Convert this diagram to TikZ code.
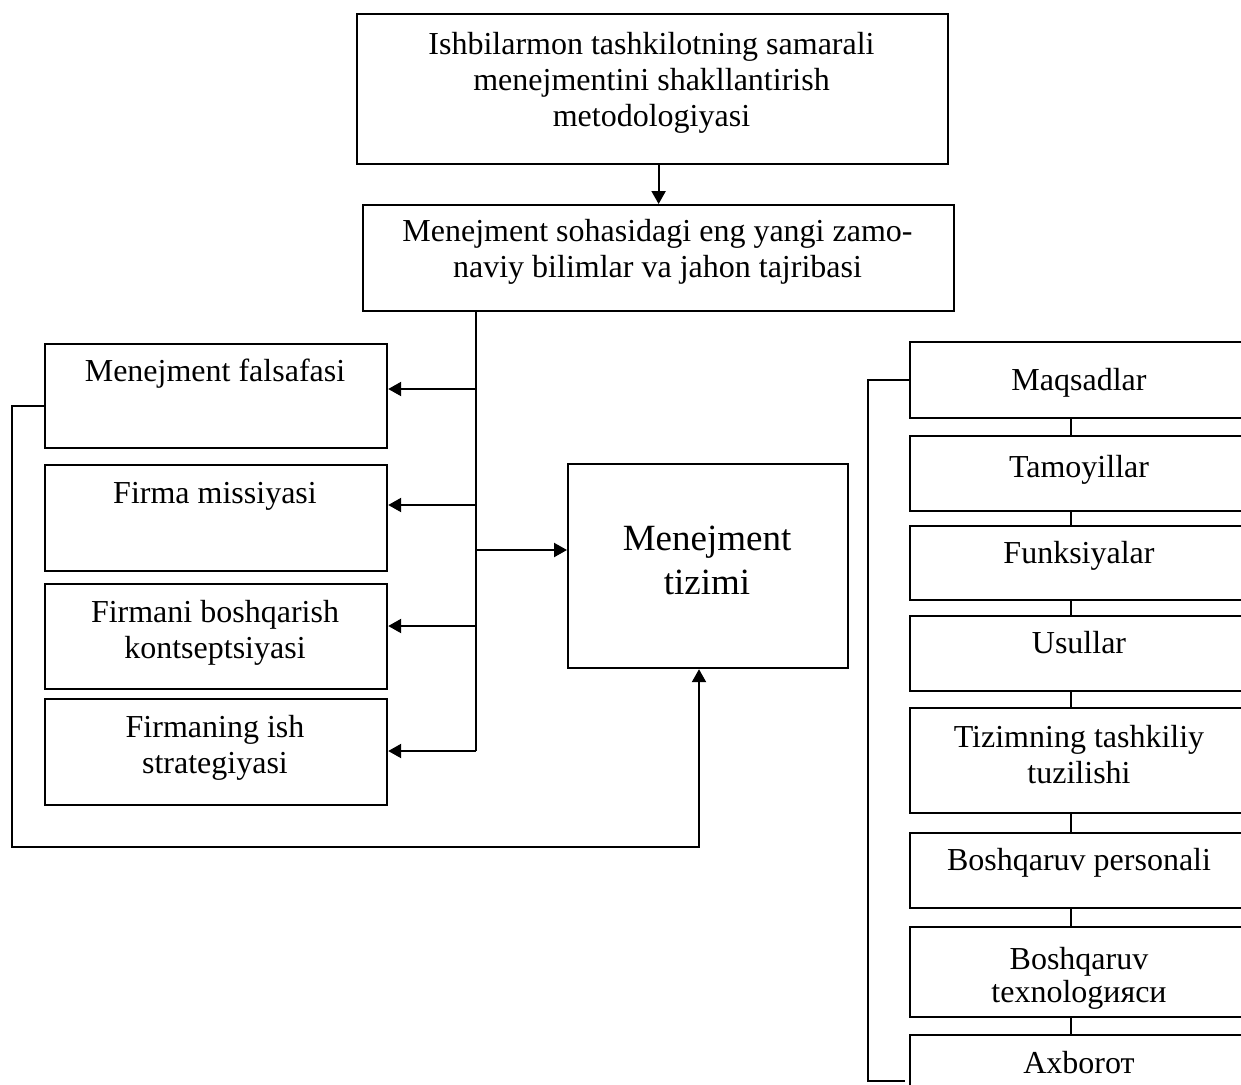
\documentclass[tikz,border=0pt]{standalone}
\usepackage{fontspec}
\setmainfont{Liberation Serif}
\usetikzlibrary{arrows.meta}

\tikzset{
  box/.style={draw, line width=2.2pt, rectangle, inner sep=0pt, anchor=north west},
  % multi-line labels sit on the baseline of their last line
  lbl/.style={inner sep=0pt, align=center, anchor=base, font=\fontsize{32}{36}\selectfont},
  biglbl/.style={inner sep=0pt, align=center, anchor=base, font=\fontsize{37}{44}\selectfont},
  link/.style={line width=2.2pt},
  arr/.style={line width=2.2pt, -{Triangle[length=13pt,width=14pt]}},
}

\begin{document}
\begin{tikzpicture}[x=1pt,y=-1pt]
\useasboundingbox (0,0) rectangle (1241,1084);
\clip (0,0) rectangle (1241,1084);

% top chain
\node[box, minimum width=591pt, minimum height=150pt] (top) at (356,13) {};
\node[lbl] (toptxt) at (651.5,126) {Ishbilarmon tashkilotning samarali\\menejmentini shakllantirish\\metodologiyasi};
\node[box, minimum width=591pt, minimum height=106pt] (know) at (362,204) {};
\node[lbl] (knowtxt) at (657.5,277) {Menejment sohasidagi eng yangi zamo-\\naviy bilimlar va jahon tajribasi};

% left column
\node[box, minimum width=342pt, minimum height=104pt] (f1) at (44,343) {};
\node[lbl] (f1txt) at (215,381) {Menejment falsafasi};
\node[box, minimum width=342pt, minimum height=106pt] (f2) at (44,464) {};
\node[lbl] (f2txt) at (215,503) {Firma missiyasi};
\node[box, minimum width=342pt, minimum height=105pt] (f3) at (44,583) {};
\node[lbl] (f3txt) at (215,658) {Firmani boshqarish\\kontseptsiyasi};
\node[box, minimum width=342pt, minimum height=106pt] (f4) at (44,698) {};
\node[lbl] (f4txt) at (215,773) {Firmaning ish\\strategiyasi};

% central system box
\node[box, minimum width=280pt, minimum height=204pt] (sys) at (567,463) {};
\node[biglbl] (systxt) at (707,594) {Menejment\\tizimi};

% right column
\node[box, minimum width=340pt, minimum height=76pt] (r1) at (909,341) {};
\node[lbl] (r1txt) at (1079,390) {Maqsadlar};
\node[box, minimum width=340pt, minimum height=75pt] (r2) at (909,435) {};
\node[lbl] (r2txt) at (1079,477) {Tamoyillar};
\node[box, minimum width=340pt, minimum height=74pt] (r3) at (909,525) {};
\node[lbl] (r3txt) at (1079,563) {Funksiyalar};
\node[box, minimum width=340pt, minimum height=75pt] (r4) at (909,615) {};
\node[lbl] (r4txt) at (1079,653) {Usullar};
\node[box, minimum width=340pt, minimum height=105pt] (r5) at (909,707) {};
\node[lbl] (r5txt) at (1079,783) {Tizimning tashkiliy\\tuzilishi};
\node[box, minimum width=340pt, minimum height=75pt] (r6) at (909,832) {};
\node[lbl] (r6txt) at (1079,870) {Boshqaruv personali};
\node[box, minimum width=340pt, minimum height=90pt] (r7) at (909,926) {};
\node[lbl, font=\fontsize{32}{33}\selectfont] (r7txt) at (1079,1002) {Boshqaruv\\texnologияси};
\node[box, minimum width=340pt, minimum height=100pt] (r8) at (909,1034) {};
\node[lbl] (r8txt) at (1079,1073) {Axborот};

% connectors
\draw[arr] (top.south -| know.north) -- (know.north);

\coordinate (j1) at (476,389);
\coordinate (j2) at (476,505);
\coordinate (jm) at (476,550);
\coordinate (j3) at (476,626);
\coordinate (j4) at (476,751);
\draw[link] (know.south -| j4) -- (j4);
\draw[arr] (j1) -- (j1 -| f1.east);
\draw[arr] (j2) -- (j2 -| f2.east);
\draw[arr] (j3) -- (j3 -| f3.east);
\draw[arr] (j4) -- (j4 -| f4.east);
\draw[arr] (jm) -- (jm -| sys.west);

% feedback loop
\coordinate (c1) at (12,847);
\coordinate (c2) at (699,847);
\draw[arr] ([yshift=-10pt]f1.west) -| (c1) -- (c2) -- (c2 |- sys.south);

% right column links
\coordinate (rc) at (1071,0);
\draw[link] (r1.south -| rc) -- (r2.north -| rc);
\draw[link] (r2.south -| rc) -- (r3.north -| rc);
\draw[link] (r3.south -| rc) -- (r4.north -| rc);
\draw[link] (r4.south -| rc) -- (r5.north -| rc);
\draw[link] (r5.south -| rc) -- (r6.north -| rc);
\draw[link] (r6.south -| rc) -- (r7.north -| rc);
\draw[link] (r7.south -| rc) -- (r8.north -| rc);

% bracket on the right
\coordinate (bk1) at (868,1081);
\coordinate (bk2) at (905,1081);
\draw[link] (r1.west) -| (bk1) -- (bk2);
\end{tikzpicture}
\end{document}
